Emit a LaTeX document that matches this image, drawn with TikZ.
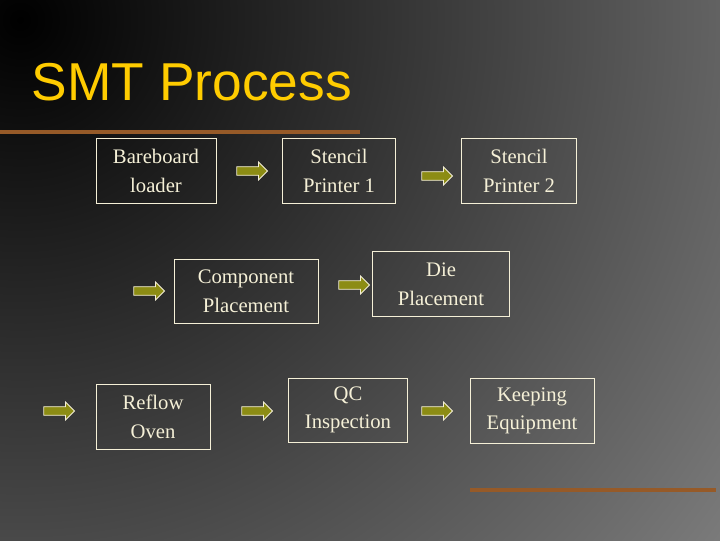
\documentclass[tikz,border=0pt]{standalone}
\usepackage{fontspec}
\setmainfont{Liberation Serif}
\newfontfamily\titlefont{Liberation Sans}
\usetikzlibrary{shapes.arrows,shadings}
\definecolor{boxline}{RGB}{245,240,215}
\definecolor{arrowfill}{RGB}{140,140,20}
\definecolor{titlecol}{RGB}{255,204,0}
\definecolor{barcol}{RGB}{150,90,40}
\tikzset{every picture/.style={line width=0.75pt},
  stepbox/.style={draw=boxline,text=boxline,align=center,inner sep=0pt,font=\fontsize{15.5}{21.5}\selectfont},
  blockarrow/.style={single arrow,draw=boxline,fill=arrowfill,line width=0.6pt,minimum height=23pt,minimum width=13.5pt,single arrow head extend=2pt,inner sep=1.5pt}}
\begin{document}
\begin{tikzpicture}[x=0.75pt,y=0.75pt,yscale=-1,xscale=1]
\useasboundingbox (0,0) rectangle (720,540);
%Background
\begin{scope}
\clip (0,0) rectangle (720,540);
\shade[inner color=black,outer color=black!45!white] (20,20) circle (1000);
\end{scope}
%Bars
\fill[barcol] (0,130) rectangle (360,134);
\fill[barcol] (470,488) rectangle (716,492);
%Title
\node[anchor=west,text=titlecol,font=\titlefont\fontsize{40}{45}\selectfont] (title) at (27,82) {SMT Process};

%Boxes
\node[stepbox,minimum width=90pt,minimum height=48.75pt] (bare) at (156,171) {Bareboard\\loader};
\node[stepbox,minimum width=84.75pt,minimum height=48.75pt] (sp1) at (339,171) {Stencil\\Printer 1};
\node[stepbox,minimum width=86.25pt,minimum height=48.75pt] (sp2) at (519,171) {Stencil\\Printer 2};
\node[stepbox,minimum width=108pt,minimum height=48pt] (comp) at (246,291) {Component\\Placement};
\node[stepbox,minimum width=102.75pt,minimum height=48.75pt] (die) at (441,284) {Die\\Placement};
\node[stepbox,minimum width=85.5pt,minimum height=48.75pt] (oven) at (153,417) {Reflow\\Oven};
\node[stepbox,minimum width=89.25pt,minimum height=48pt] (qc) at (348,410) {QC\\Inspection};
\node[stepbox,minimum width=93pt,minimum height=48.75pt] (keep) at (532,411) {Keeping\\Equipment};

%Arrows
\node[blockarrow] (a1) at (250,171) {};
\node[blockarrow] (a2) at (435,176) {};
\node[blockarrow] (a3) at (147,291) {};
\node[blockarrow] (a4) at (352,285) {};
\node[blockarrow] (a5) at (57,411) {};
\node[blockarrow] (a6) at (255,411) {};
\node[blockarrow] (a7) at (435,411) {};
\end{tikzpicture}
\end{document}
